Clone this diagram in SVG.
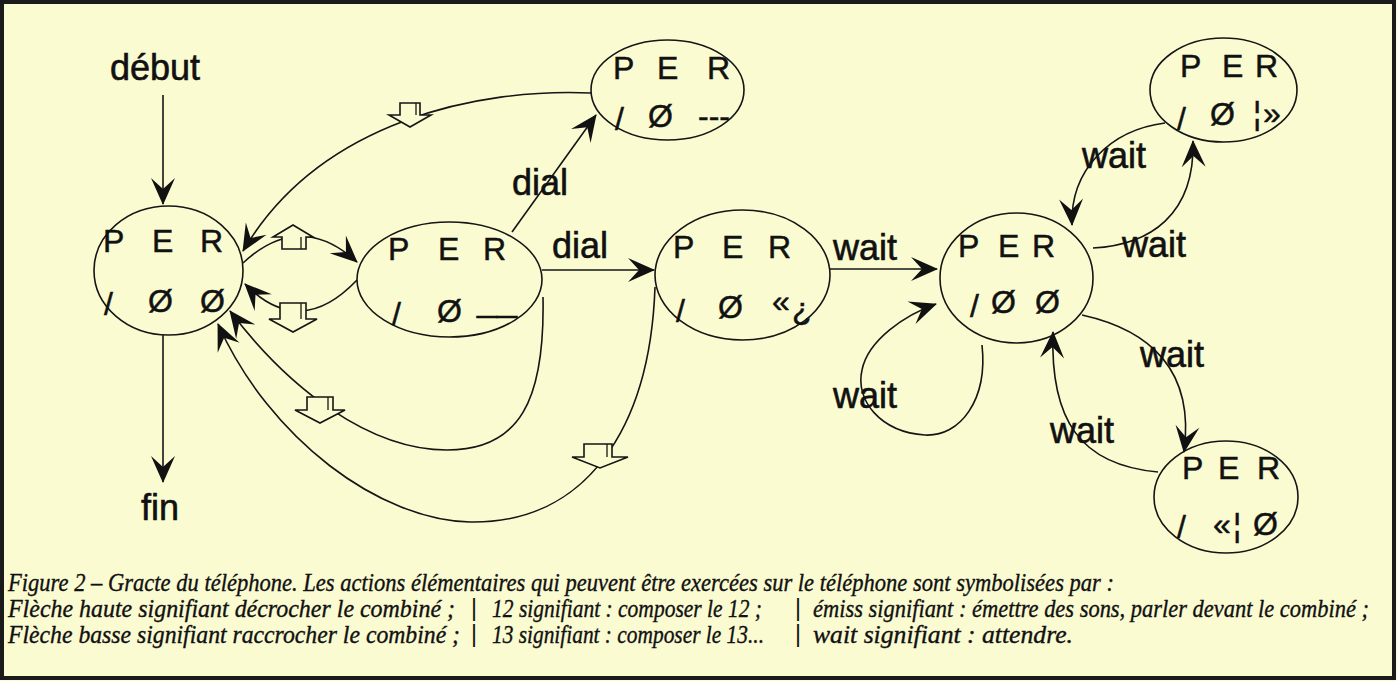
<svg xmlns="http://www.w3.org/2000/svg" width="1397" height="681" viewBox="0 0 1397 681">
<defs>
<style>
.bg{fill:#fbfbd2}
.frame{fill:none;stroke:#1a1a1a;stroke-width:4}
.node ellipse{fill:none;stroke:#151515;stroke-width:1.6}
.st{font-family:"Liberation Sans",Arial,sans-serif;font-size:32px;fill:#111;stroke:#111;stroke-width:0.5}
.lbl{font-family:"Liberation Sans",Arial,sans-serif;font-size:36px;fill:#111;stroke:#111;stroke-width:0.6}
.cap{font-family:"Liberation Serif","Times New Roman",serif;font-style:italic;font-size:24.5px;fill:#111;stroke:#111;stroke-width:0.35}
.bar{font-family:"Liberation Sans",Arial,sans-serif;font-size:23px;fill:#111}
.edge{fill:none;stroke:#151515;stroke-width:1.6}
.ha{fill:#fbfbd2;stroke:#151515;stroke-width:1.6;stroke-linejoin:miter}
.hl{fill:none;stroke:#151515;stroke-width:1.3}
</style>
<marker id="ah" viewBox="-28 -13 30 26" refX="0" refY="0" markerWidth="30" markerHeight="26" orient="auto" markerUnits="userSpaceOnUse">
<path d="M1,0 L-26,-12 L-15,0 L-26,12 Z" fill="#111"/>
</marker>
</defs>
<rect class="bg" x="0" y="0" width="1397" height="681"/>
<rect class="frame" x="2" y="2" width="1392" height="676"/>

<g id="connectors">
<path class="edge" d="M163,95 L163,204" marker-end="url(#ah)"/>
<path class="edge" d="M163,335 L163,482" marker-end="url(#ah)"/>
<path class="edge" d="M243,263 Q300,210 357,262" marker-end="url(#ah)"/>
<path class="edge" d="M357,280 Q300,340 245,284" marker-end="url(#ah)"/>
<path class="edge" d="M591,93 C480,88 320,120 243,251" marker-end="url(#ah)"/>
<path class="edge" d="M512,232 L596,115" marker-end="url(#ah)"/>
<path class="edge" d="M542,270 L654,270" marker-end="url(#ah)"/>
<path class="edge" d="M830,269 L937,269" marker-end="url(#ah)"/>
<path class="edge" d="M982,345 C988,400 960,437 925,435 C880,432 855,400 862,370 C868,340 905,315 936,304" marker-end="url(#ah)"/>
<path class="edge" d="M1093,248 C1150,245 1195,215 1193,141" marker-end="url(#ah)"/>
<path class="edge" d="M1165,123 C1110,130 1070,170 1072,225" marker-end="url(#ah)"/>
<path class="edge" d="M1082,315 C1150,330 1195,370 1184,452" marker-end="url(#ah)"/>
<path class="edge" d="M1158,472 C1080,465 1050,420 1053,332" marker-end="url(#ah)"/>
<path class="edge" d="M543,297 C545,400 520,450 447,450 C370,450 290,390 230,311" marker-end="url(#ah)"/>
<path class="edge" d="M655,287 C650,430 585,524 470,522 C380,520 270,440 218,324" marker-end="url(#ah)"/>
</g>

<g id="action-arrows">
<polygon class="ha" points="400,103 420,103 420,115 431,115 410,127 389,115 400,115"/>
<line class="hl" x1="416" y1="103" x2="416" y2="115"/>
<polygon class="ha" points="273,237 293,225 313,237 306,237 306,249 282,249 282,237"/>
<line class="hl" x1="301" y1="237" x2="301" y2="249"/>
<polygon class="ha" points="280,303 306,303 306,319 317,319 293,332 269,319 280,319"/>
<line class="hl" x1="301" y1="303" x2="301" y2="319"/>
<polygon class="ha" points="307,397 333,397 333,410 345,410 320,423 295,410 307,410"/>
<line class="hl" x1="328" y1="397" x2="328" y2="410"/>
<polygon class="ha" points="584,444 612,444 612,457 628,457 600,468 572,457 584,457"/>
<line class="hl" x1="607" y1="444" x2="607" y2="457"/>
</g>

<g id="labels">
<text class="lbl" x="110" y="80">début</text>
<text class="lbl" x="141" y="520">fin</text>
<text class="lbl" x="512" y="195">dial</text>
<text class="lbl" x="552" y="258">dial</text>
<text class="lbl" x="833" y="260">wait</text>
<text class="lbl" x="1122" y="257">wait</text>
<text class="lbl" x="1082" y="168">wait</text>
<text class="lbl" x="833" y="408">wait</text>
<text class="lbl" x="1140" y="367">wait</text>
<text class="lbl" x="1050" y="443">wait</text>
</g>

<g id="n1" class="node">
<ellipse cx="168.5" cy="270.5" rx="74.5" ry="64.5"/>
<text class="st" x="103 152 200" y="252">PER</text>
<text class="st" x="104" y="315" font-size="42">/</text>
<text class="st" x="148 200" y="312">ØØ</text>
</g>
<g id="n2" class="node">
<ellipse cx="667.5" cy="90" rx="76.5" ry="50"/>
<text class="st" x="613 657 707" y="79">PER</text>
<text class="st" x="615" y="130" font-size="42">/</text>
<text class="st" x="648" y="127">Ø</text>
<text class="st" x="698" y="127">---</text>
</g>
<g id="n3" class="node">
<ellipse cx="449.5" cy="279.5" rx="92.5" ry="57.5"/>
<text class="st" x="388 438 483" y="260">PER</text>
<text class="st" x="392" y="325" font-size="42">/</text>
<text class="st" x="437" y="322">Ø</text>
<text class="st" x="477" y="312" textLength="40" lengthAdjust="spacingAndGlyphs">__</text>
</g>
<g id="n4" class="node">
<ellipse cx="742.5" cy="275" rx="87.5" ry="65"/>
<text class="st" x="673 722 768" y="258">PER</text>
<text class="st" x="676" y="322" font-size="42">/</text>
<text class="st" x="718" y="318">Ø</text>
<text class="st" x="772" y="312" font-size="26">«</text>
<text class="st" x="792" y="320" font-size="36">¿</text>
</g>
<g id="n5" class="node">
<ellipse cx="1016.5" cy="278" rx="76.5" ry="65"/>
<text class="st" x="958 998 1032" y="257">PER</text>
<text class="st" x="970" y="317" font-size="42">/</text>
<text class="st" x="991 1035" y="313">ØØ</text>
</g>
<g id="n6" class="node">
<ellipse cx="1223.5" cy="90" rx="73.5" ry="52"/>
<text class="st" x="1180 1222 1255" y="77">PER</text>
<text class="st" x="1177" y="130" font-size="42">/</text>
<text class="st" x="1210" y="125">Ø</text>
<text class="st" x="1253" y="124" font-size="34">¦</text>
<text class="st" x="1263" y="124" font-size="30">»</text>
</g>
<g id="n7" class="node">
<ellipse cx="1226" cy="497" rx="72" ry="56"/>
<text class="st" x="1182 1218 1257" y="479">PER</text>
<text class="st" x="1177" y="538" font-size="42">/</text>
<text class="st" x="1213" y="535" font-size="34">«</text>
<text class="st" x="1233" y="536" font-size="34">¦</text>
<text class="st" x="1253" y="535">Ø</text>
</g>

<g id="caption">
<text class="cap" x="8" y="591" textLength="1106" lengthAdjust="spacingAndGlyphs">Figure 2 – Gracte du téléphone. Les actions élémentaires qui peuvent être exercées sur le téléphone sont symbolisées par :</text>
<text class="cap" x="8" y="617" textLength="447" lengthAdjust="spacingAndGlyphs">Flèche haute signifiant décrocher le combiné ;</text>
<text class="bar" x="471" y="616">|</text>
<text class="cap" x="492" y="617" textLength="270" lengthAdjust="spacingAndGlyphs">12 signifiant : composer le 12 ;</text>
<text class="bar" x="795" y="616">|</text>
<text class="cap" x="813" y="617" textLength="556" lengthAdjust="spacingAndGlyphs">émiss signifiant : émettre des sons, parler devant le combiné ;</text>
<text class="cap" x="8" y="643" textLength="452" lengthAdjust="spacingAndGlyphs">Flèche basse signifiant raccrocher le combiné ;</text>
<text class="bar" x="471" y="642">|</text>
<text class="cap" x="492" y="643" textLength="272" lengthAdjust="spacingAndGlyphs">13 signifiant : composer le 13...</text>
<text class="bar" x="795" y="642">|</text>
<text class="cap" x="813" y="643" textLength="260" lengthAdjust="spacingAndGlyphs">wait signifiant : attendre.</text>
</g>
</svg>
